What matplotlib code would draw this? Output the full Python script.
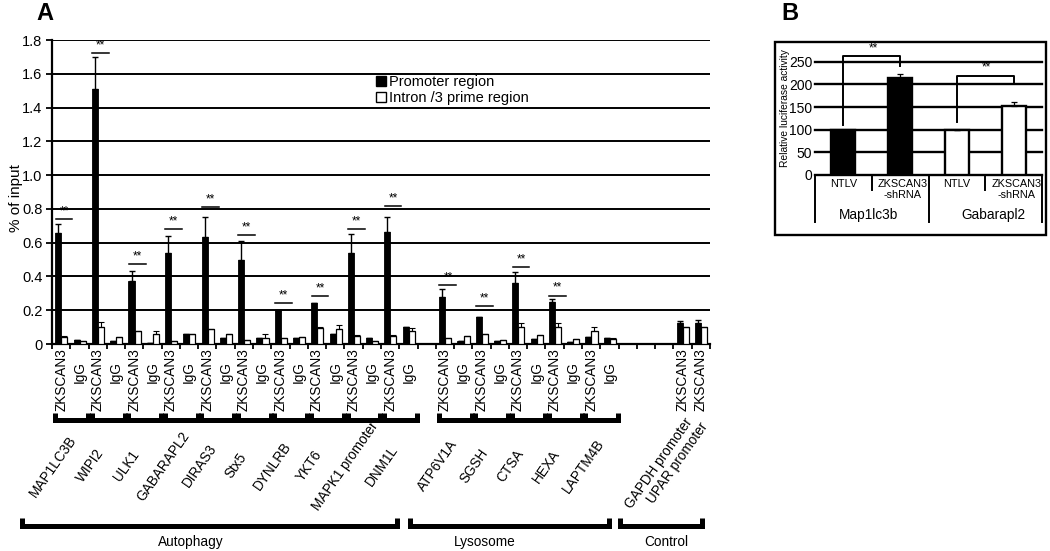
import numpy as np
import matplotlib
matplotlib.use('Agg')
import matplotlib.pyplot as plt
import matplotlib.transforms as mtransforms
from matplotlib.patches import Patch, Rectangle

plt.rcParams['font.family'] = ['Liberation Sans', 'DejaVu Sans']

# ---------------- data: panel A ----------------
slot_positions = list(range(0, 20)) + list(range(21, 31)) + [34, 35]
antibody = ['ZKSCAN3', 'IgG'] * 15 + ['ZKSCAN3', 'ZKSCAN3']
genes = ['MAP1LC3B', 'WIPI2', 'ULK1', 'GABARAPL2', 'DIRAS3', 'Stx5', 'DYNLRB',
         'YKT6', 'MAPK1 promoter', 'DNM1L', 'ATP6V1A', 'SGSH', 'CTSA', 'HEXA', 'LAPTM4B']
controls = ['GAPDH promoter', 'UPAR promoter']
promoter = [0.658, 0.022, 1.507, 0.020, 0.375, 0.008, 0.540, 0.060, 0.634, 0.033,
            0.500, 0.037, 0.200, 0.037, 0.240, 0.057, 0.540, 0.035, 0.664, 0.102,
            0.276, 0.020, 0.160, 0.020, 0.360, 0.030, 0.250, 0.010, 0.041, 0.037,
            0.127, 0.122]
promoter_err = [0.050, 0, 0.190, 0, 0.055, 0, 0.100, 0, 0.120, 0,
                0.110, 0, 0.0, 0, 0.005, 0, 0.110, 0, 0.090, 0,
                0.050, 0, 0.0, 0, 0.065, 0, 0.015, 0, 0.0, 0,
                0.008, 0.018]
intron = [0.040, 0.020, 0.098, 0.040, 0.075, 0.060, 0.020, 0.060, 0.087, 0.060,
          0.025, 0.037, 0.037, 0.040, 0.092, 0.088, 0.045, 0.020, 0.045, 0.078,
          0.035, 0.045, 0.061, 0.025, 0.098, 0.051, 0.098, 0.031, 0.076, 0.030,
          0.098, 0.098]
intron_err = [0.008, 0, 0.030, 0, 0.004, 0.018, 0, 0, 0.004, 0,
              0, 0.020, 0, 0, 0.010, 0.025, 0.010, 0, 0.010, 0.015,
              0, 0.004, 0, 0, 0.025, 0.004, 0.025, 0, 0.027, 0.008,
              0, 0]
sig_genes = ['MAP1LC3B', 'WIPI2', 'ULK1', 'GABARAPL2', 'DIRAS3', 'Stx5', 'DYNLRB',
             'YKT6', 'MAPK1 promoter', 'DNM1L', 'ATP6V1A', 'SGSH', 'CTSA', 'HEXA']
sig_heights = [0.738, 1.725, 0.471, 0.678, 0.813, 0.643, 0.240, 0.283, 0.682, 0.816,
               0.347, 0.224, 0.455, 0.287]
groups = ['Autophagy', 'Lysosome', 'Control']
group_spans = [(-2.14, 18.37), (19.08, 29.97), (30.6, 35.06)]
group_label_x = [7.1, 23.2, 33.1]
yticks_a = [0, 0.2, 0.4, 0.6, 0.8, 1.0, 1.2, 1.4, 1.6, 1.8]
ytick_labels_a = ['0', '0.2', '0.4', '0.6', '0.8', '1.0', '1.2', '1.4', '1.6', '1.8']

# ---------------- data: panel B ----------------
b_conditions = ['NTLV', 'ZKSCAN3\n-shRNA', 'NTLV', 'ZKSCAN3\n-shRNA']
b_genes = ['Map1lc3b', 'Gabarapl2']
b_values = [100, 213, 100, 152]
b_err = [0, 10, 0, 8]
b_colors = ['black', 'black', 'white', 'white']
b_sig = [(0, 1, 110, 263, 240), (2, 3, 116, 219, 206)]  # left, right, left-y, top-y, right-y
yticks_b = [0, 50, 100, 150, 200, 250]

W, H = 1050, 551
fig = plt.figure(figsize=(W / 100, H / 100), dpi=100)
fig.patch.set_facecolor('white')


def fy(p):
    return 1 - p / H


# ================= Panel A =================
ax = fig.add_axes([52 / W, fy(344), (710 - 52) / W, (344 - 40) / H])
ax.set_xlim(-0.5, 35.5)
ax.set_ylim(0, 1.8)
for s in ['top', 'right']:
    ax.spines[s].set_visible(False)
for s in ['left', 'bottom']:
    ax.spines[s].set_linewidth(1.6)
ax.set_yticks(yticks_a)
ax.set_yticklabels(ytick_labels_a, fontsize=10.5)
ax.tick_params(axis='y', direction='out', length=4, width=1.3, pad=3)
ax.yaxis.grid(True, color='black', lw=1.4)
ax.set_axisbelow(True)
ax.set_xticks([])
ax.set_xticks(np.arange(-0.5, 36, 1), minor=True)
ax.tick_params(axis='x', which='minor', direction='out', length=3.5, width=1.3, labelbottom=False)

pos = np.array(slot_positions, dtype=float)
bw = 0.33
ax.bar(pos - 0.15, promoter, width=bw, color='black', edgecolor='black', lw=0.6, zorder=3)
ax.bar(pos + 0.18, intron, width=bw, color='white', edgecolor='black', lw=0.9, zorder=3)
ax.errorbar(pos - 0.15, promoter, yerr=[np.zeros(len(pos)), promoter_err], fmt='none',
            ecolor='black', elinewidth=1.0, capsize=2.5, capthick=1.0, zorder=4)
ax.errorbar(pos + 0.18, intron, yerr=[np.zeros(len(pos)), intron_err], fmt='none',
            ecolor='black', elinewidth=0.8, capsize=2, capthick=0.8, zorder=4)

# significance marks
for g, h in zip(sig_genes, sig_heights):
    s = slot_positions[2 * genes.index(g)]
    ax.plot([s - 0.3, s + 0.62], [h, h], color='black', lw=1.1, clip_on=False, zorder=5)
    ax.text(s + 0.16, h + 0.01, '**', ha='center', va='bottom', fontsize=8.5, zorder=6)

# legend
handles = [Patch(facecolor='black', edgecolor='black'),
           Patch(facecolor='white', edgecolor='black')]
ax.legend(handles, ['Promoter region', 'Intron /3 prime region'], loc='upper left',
          bbox_to_anchor=(0.492, 0.884), frameon=False, fontsize=10.5,
          handlelength=0.7, handleheight=0.7, handletextpad=0.2, labelspacing=0.1,
          borderaxespad=0, borderpad=0)

trans = mtransforms.blended_transform_factory(ax.transData, fig.transFigure)

# antibody labels
for s, lab in zip(slot_positions, antibody):
    top = 348 if lab == 'ZKSCAN3' else 361
    ax.text(s, fy(top), lab, rotation=90, ha='center', va='top', fontsize=9.8,
            transform=trans)

# gene brackets and names
for i, g in enumerate(genes):
    s = slot_positions[2 * i]
    ax.plot([s - 0.33, s - 0.33, s + 1.47, s + 1.47], [fy(413), fy(420), fy(420), fy(413)],
            color='black', lw=3.6, solid_joinstyle='miter', solid_capstyle='butt',
            transform=trans, clip_on=False)
    ax.text(s + 0.5 - 0.93, fy(466), g, rotation=55, ha='center', va='center',
            fontsize=9.8, transform=trans)
for j, c in enumerate(controls):
    s = slot_positions[30 + j]
    ax.text(s - 1.3, fy(463), c, rotation=55, ha='center', va='center',
            fontsize=9.8, transform=trans)

# group brackets
for g, (a, b), lx in zip(groups, group_spans, group_label_x):
    ax.plot([a, a, b, b], [fy(518), fy(526), fy(526), fy(518)], color='black', lw=3.6,
            solid_joinstyle='miter', solid_capstyle='butt', transform=trans, clip_on=False)
    ax.text(lx, fy(542), g, ha='center', va='center', fontsize=9.8, transform=trans)

fig.text(16 / W, fy(198), '% of input', rotation=90, ha='center', va='center', fontsize=11)
fig.text(45 / W, fy(13), 'A', ha='center', va='center', fontsize=17, fontweight='bold')

# ================= Panel B =================
axb = fig.add_axes([815 / W, fy(175), (1042 - 815) / W, (175 - 61.7) / H])
axb.set_xlim(-0.5, 3.5)
axb.set_ylim(0, 250)
for s in axb.spines.values():
    s.set_visible(False)
axb.set_xticks([])
axb.set_yticks(yticks_b)
axb.set_yticklabels([str(v) for v in yticks_b], fontsize=10)
axb.tick_params(axis='y', length=0, pad=2)
for v in yticks_b:
    axb.axhline(v, color='black', lw=1.7, zorder=1, clip_on=False)

xb = np.arange(len(b_values))
axb.bar(xb, b_values, width=0.42, color=b_colors, edgecolor='black', lw=1.7, zorder=3)
axb.errorbar(xb, b_values, yerr=[np.zeros(len(xb)), b_err], fmt='none', ecolor='black',
             elinewidth=0.9, capsize=2, capthick=0.9, zorder=4)

for (l, r, yl, yt, yr) in b_sig:
    axb.plot([l, l, r, r], [yl, yt, yt, yr], color='black', lw=1.4, clip_on=False, zorder=5)
    axb.text((l + r) / 2 + 0.02, yt + 4, '**', ha='center', va='bottom', fontsize=8.5)

transb = mtransforms.blended_transform_factory(axb.transData, fig.transFigure)
for xv in [-0.5, 1.5, 3.5]:
    axb.plot([xv, xv], [fy(175), fy(222)], color='black', lw=1.4, transform=transb, clip_on=False)
for xv in [0.5, 2.5]:
    axb.plot([xv, xv], [fy(175), fy(190)], color='black', lw=1.4, transform=transb, clip_on=False)
for xv, lab in zip(xb, b_conditions):
    axb.text(xv + 0.05 * (lab != 'NTLV'), fy(179), lab, ha='center', va='top', fontsize=7.8,
             linespacing=1.15, transform=transb)
for k, g in enumerate(b_genes):
    axb.text(2 * k + 0.5 - 0.05 + 0.2 * k, fy(215), g, ha='center', va='center', fontsize=9.8,
             transform=transb)

fig.text(785 / W, fy(108), 'Relative luciferase activity', rotation=90, ha='center',
         va='center', fontsize=7.4)
fig.text(790 / W, fy(13), 'B', ha='center', va='center', fontsize=17, fontweight='bold')

fig.patches.append(Rectangle((775 / W, fy(235)), (1046 - 775) / W, (235 - 42) / H,
                             transform=fig.transFigure, fill=False, lw=1.7, ec='black'))

fig.savefig('out.png', dpi=100, facecolor='white')
